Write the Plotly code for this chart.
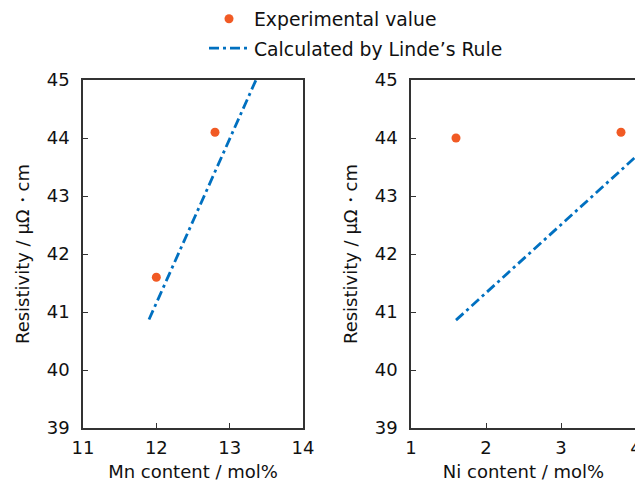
import plotly.graph_objects as go
from plotly.subplots import make_subplots

# Mn series
mn_exp_x = [12.0, 12.8]
mn_exp_y = [41.6, 44.1]
mn_calc_x = [11.9, 13.5]
mn_calc_y = [40.87, 45.40]

# Ni series
ni_exp_x = [1.6, 3.8]
ni_exp_y = [44.0, 44.1]
ni_calc_x = [1.6, 4.0]
ni_calc_y = [40.86, 43.68]

y_ticks = [39, 40, 41, 42, 43, 44, 45]
mn_ticks = [11, 12, 13, 14]
ni_ticks = [1, 2, 3, 4]

ORANGE = "#F15A24"
BLUE = "#0070C0"
AXIS = "#333333"
TEXT = "#111111"
FONT = "DejaVu Sans, sans-serif"
FS = 18

W, H = 660, 482

fig = make_subplots(rows=1, cols=2)

fig.add_trace(go.Scatter(x=mn_exp_x, y=mn_exp_y, mode="markers",
                         marker=dict(color=ORANGE, size=9),
                         name="Experimental value", legendgroup="a"), 1, 1)
fig.add_trace(go.Scatter(x=mn_calc_x, y=mn_calc_y, mode="lines",
                         line=dict(color=BLUE, width=2.8, dash="10px,4px,3px,4px"),
                         name="Calculated by Linde\u2019s Rule", legendgroup="b"), 1, 1)
fig.add_trace(go.Scatter(x=ni_exp_x, y=ni_exp_y, mode="markers",
                         marker=dict(color=ORANGE, size=9),
                         showlegend=False), 1, 2)
fig.add_trace(go.Scatter(x=ni_calc_x, y=ni_calc_y, mode="lines",
                         line=dict(color=BLUE, width=2.8, dash="10px,4px,3px,4px"),
                         showlegend=False), 1, 2)

common_axis = dict(showline=True, linecolor=AXIS, linewidth=1.6, mirror=True,
                   ticks="inside", ticklen=5, tickwidth=1.2, tickcolor=AXIS,
                   showgrid=False, zeroline=False, automargin=False,
                   tickfont=dict(size=FS, color=TEXT, family=FONT))

title_font = dict(size=FS, color=TEXT, family=FONT)

fig.update_xaxes(common_axis, row=1, col=1, range=[11, 14], tickvals=mn_ticks,
                 domain=[83 / W, 303 / W], ticklabelstandoff=3,
                 title=dict(text="Mn content / mol%", font=title_font, standoff=16))
fig.update_xaxes(common_axis, row=1, col=2, range=[1, 4], tickvals=ni_ticks,
                 domain=[411 / W, 636 / W], ticklabelstandoff=3,
                 title=dict(text="Ni content / mol%", font=title_font, standoff=16))
fig.update_yaxes(common_axis, range=[39, 45], tickvals=y_ticks, ticklabelstandoff=8,
                 title=dict(text="Resistivity / \u03bc\u03a9\u30fbcm", font=title_font, standoff=12))

fig.update_layout(
    width=W, height=H,
    margin=dict(l=0, r=0, t=80, b=54),
    plot_bgcolor="white", paper_bgcolor="white",
    font=dict(family=FONT, size=FS, color=TEXT),
    showlegend=True,
    legend=dict(x=204 / W, y=1.0, xanchor="left", yanchor="top",
                yref="container", bgcolor="rgba(0,0,0,0)",
                font=dict(size=18.8, family=FONT, color=TEXT),
                tracegroupgap=2, itemwidth=40),
)

fig.write_html("out.html",
               post_script="document.documentElement.style.overflow='hidden';document.body.style.overflow='hidden';")
